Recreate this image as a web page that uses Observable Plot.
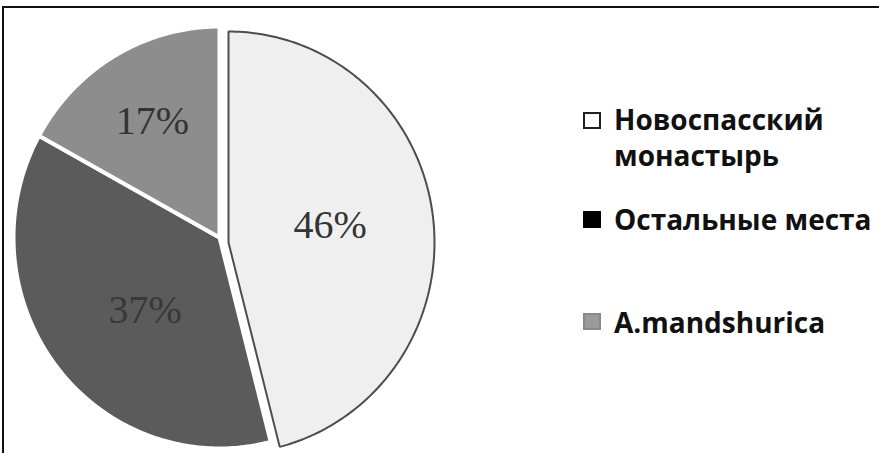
<!DOCTYPE html>
<html><head><meta charset="utf-8">
<script src="https://cdn.jsdelivr.net/npm/d3@7"></script>
<script src="https://cdn.jsdelivr.net/npm/@observablehq/plot@0.6"></script>
<style>
html,body{margin:0;padding:0;background:#fff;overflow:hidden;}
#wrap{position:relative;width:879px;height:453px;overflow:hidden;background:#fff;}
#chart{position:absolute;left:0;top:0;}
#frame{position:absolute;left:2px;top:6px;width:1000px;height:1000px;border:2px solid #111;pointer-events:none;}
.sw{position:absolute;left:583px;width:18px;height:17px;box-sizing:border-box;}
.lt{position:absolute;left:614px;font-family:"Open Sans",sans-serif;font-weight:700;font-size:28px;line-height:36px;color:#111;white-space:nowrap;}
</style></head>
<body>
<div id="wrap"><div id="chart"></div><div id="frame"></div><div id="legend"></div></div>
<script>
// ---- data ----
const categories = ["Новоспасский монастырь", "Остальные места", "A.mandshurica"];
const legendLines = [["Новоспасский", "монастырь"], ["Остальные места"], ["A.mandshurica"]];
const shares = [46, 37, 17];
const shareLabels = ["46%", "37%", "17%"];

// ---- styling / layout ----
const sliceFill = ["#efefef", "#5b5b5b", "#8d8d8d"];
const sliceStroke = ["#4d4d4d", "#ffffff", "#ffffff"];
const explodePx = [[9, 5], [0, 0], [0, 0]];   // pixel shift of each slice (right, down)
const labelRadius = [0.5, 0.5, 0.64];
const labelAngleShift = [-2, -6, 0];          // degrees
const labelColor = ["#333", "#383838", "#333"];
const swatchFill = ["#fff", "#000", "#9a9a9a"];
const swatchBorder = ["#222", "#000", "#888"];
const swatchTop = [112, 211, 313];
const textTop = [101, 201, 304];

const W = 879, H = 453, cxPx = 219, cyPx = 237, rxPx = 206, ryPx = 211;

const arcs = d3.pie().sort(null).value(d => d)(shares);
const rows = [];
const labelRows = [];
arcs.forEach((a, i) => {
  const mid = (a.startAngle + a.endAngle) / 2;
  const ox = explodePx[i][0] / rxPx, oy = -explodePx[i][1] / ryPx;
  const n = 160;
  rows.push({cat: categories[i], i, x: ox, y: oy});
  for (let k = 0; k <= n; k++) {
    const t = a.startAngle + (a.endAngle - a.startAngle) * k / n;
    rows.push({cat: categories[i], i, x: ox + Math.sin(t), y: oy + Math.cos(t)});
  }
  rows.push({cat: categories[i], i, x: ox, y: oy});
  const la = mid + labelAngleShift[i] * Math.PI / 180;
  labelRows.push({i, text: shareLabels[i], x: ox + labelRadius[i] * Math.sin(la), y: oy + labelRadius[i] * Math.cos(la)});
});

const others = rows.filter(r => r.i !== 0);
const first = rows.filter(r => r.i === 0);

const chart = Plot.plot({
  width: W, height: H, margin: 0,
  style: {background: "transparent", overflow: "visible"},
  x: {domain: [-cxPx / rxPx, (W - cxPx) / rxPx], axis: null},
  y: {domain: [(cyPx - H) / ryPx, cyPx / ryPx], axis: null},
  color: {type: "identity"},
  marks: [
    Plot.line(others, {x: "x", y: "y", z: "cat", fill: d => sliceFill[d.i], stroke: d => sliceStroke[d.i], strokeWidth: 4, strokeLinejoin: "round", curve: "linear"}),
    Plot.line(first, {x: "x", y: "y", z: "cat", fill: sliceFill[0], stroke: sliceStroke[0], strokeWidth: 2, strokeLinejoin: "miter", curve: "linear"}),
    Plot.text(labelRows, {x: "x", y: "y", text: "text", fontSize: 40, fontFamily: "Liberation Serif", fill: d => labelColor[d.i], lineAnchor: "middle"})
  ]
});
document.getElementById("chart").appendChild(chart);

const leg = document.getElementById("legend");
categories.forEach((c, i) => {
  const sw = document.createElement("div");
  sw.className = "sw";
  sw.style.top = swatchTop[i] + "px";
  sw.style.background = swatchFill[i];
  sw.style.border = "2px solid " + swatchBorder[i];
  leg.appendChild(sw);
  const t = document.createElement("div");
  t.className = "lt";
  t.style.top = textTop[i] + "px";
  t.innerHTML = legendLines[i].join("<br>");
  leg.appendChild(t);
});
</script>
</body></html>
